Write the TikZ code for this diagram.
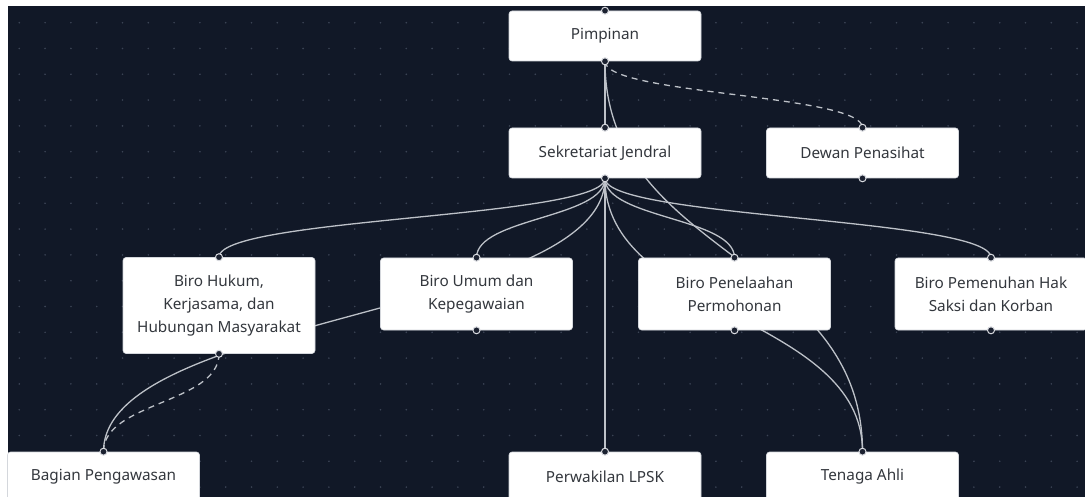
\documentclass[tikz,border=0pt]{standalone}
\usepackage{fontspec}
\setmainfont{Noto Sans}
\definecolor{canvas}{HTML}{111827}
\definecolor{griddot}{HTML}{3A4354}
\definecolor{wire}{HTML}{BDC1C8}
\definecolor{boxline}{HTML}{D4D7DC}
\definecolor{labeltext}{HTML}{33373D}
\definecolor{handlefill}{HTML}{1B2130}
\definecolor{handleline}{HTML}{D8DADF}
\pgfdeclarelayer{bglayer}
\pgfdeclarelayer{edgelayer}
\pgfsetlayers{bglayer,edgelayer,main}
\begin{document}
\begin{tikzpicture}[x=1pt,y=-1pt,
  box/.style={draw=boxline, fill=white, rounded corners=3pt, text=labeltext,
    font=\fontsize{15.3}{23}\selectfont, align=center, inner sep=0pt,
    line width=0.6pt, minimum width=192pt},
  onerow/.style={box, minimum height=50pt},
  tworow/.style={box, minimum height=72pt},
  threerow/.style={box, minimum height=96pt},
  link/.style={draw=wire, line width=1.3pt},
  dashlink/.style={link, dash pattern=on 6pt off 5pt},
  handle/.style={circle, fill=handlefill, draw=handleline, line width=1pt,
    minimum size=7pt, inner sep=0pt}]
\useasboundingbox (0,0) rectangle (1085,497);
\clip (0,0) rectangle (1085,497);

% canvas with dotted grid
\begin{pgfonlayer}{bglayer}
  \fill[white] (0,0) rectangle (1085,497);
  \fill[canvas] (8,6) rectangle (1085,497);
  \foreach \i in {0,...,41}
    \foreach \j in {0,...,18}
      \fill[griddot] (19.3+25.8*\i, 22.7+25.8*\j) circle (0.9pt);
\end{pgfonlayer}

% organisation units
\node[onerow] (pimpinan) at (605,36) {Pimpinan};
\node[onerow] (sekjen) at (605,153) {Sekretariat Jendral};
\node[onerow] (dewan) at (862.5,153) {Dewan Penasihat};
\node[threerow] (hukum) at (219,305.5) {Biro Hukum,\\Kerjasama, dan\\Hubungan Masyarakat};
\node[tworow] (umum) at (476.5,294) {Biro Umum dan\\Kepegawaian};
\node[tworow] (penelaahan) at (734.5,294) {Biro Penelaahan\\Permohonan};
\node[tworow] (pemenuhan) at (991,294) {Biro Pemenuhan Hak\\Saksi dan Korban};
\node[onerow] (pengawasan) at (103.5,477) {Bagian Pengawasan};
\node[onerow] (perwakilan) at (605,477) {Perwakilan LPSK};
\node[onerow] (tenaga) at (862.5,477) {Tenaga Ahli};

% connectors, drawn behind the boxes
\begin{pgfonlayer}{edgelayer}
  \draw[link] (pimpinan.south) -- (sekjen.north);
  \draw[dashlink] (pimpinan.south) .. controls +(0,33.5) and +(0,-33.5) .. (dewan.north);
  \draw[link] (pimpinan.south) .. controls +(0,195.5) and +(0,-195.5) .. (tenaga.north);
  \draw[link] (sekjen.south) .. controls +(0,40) and +(0,-40) .. (hukum.north);
  \draw[link] (sekjen.south) .. controls +(0,40) and +(0,-40) .. (umum.north);
  \draw[link] (sekjen.south) .. controls +(0,40) and +(0,-40) .. (penelaahan.north);
  \draw[link] (sekjen.south) .. controls +(0,40) and +(0,-40) .. (pemenuhan.north);
  \draw[link] (sekjen.south) -- (perwakilan.north);
  \draw[link] (sekjen.south) .. controls +(0,137) and +(0,-137) .. (tenaga.north);
  \draw[link] (sekjen.south) .. controls +(0,137) and +(0,-137) .. (pengawasan.north);
  \draw[dashlink] (hukum.south) .. controls +(0,49.5) and +(0,-49.5) .. (pengawasan.north);
\end{pgfonlayer}

% connection handles on every box
\foreach \n in {pimpinan,sekjen,dewan,hukum,umum,penelaahan,pemenuhan,pengawasan,perwakilan,tenaga} {
  \node[handle] (\n-top) at (\n.north) {};
  \node[handle] (\n-bot) at (\n.south) {};
}
\end{tikzpicture}
\end{document}
